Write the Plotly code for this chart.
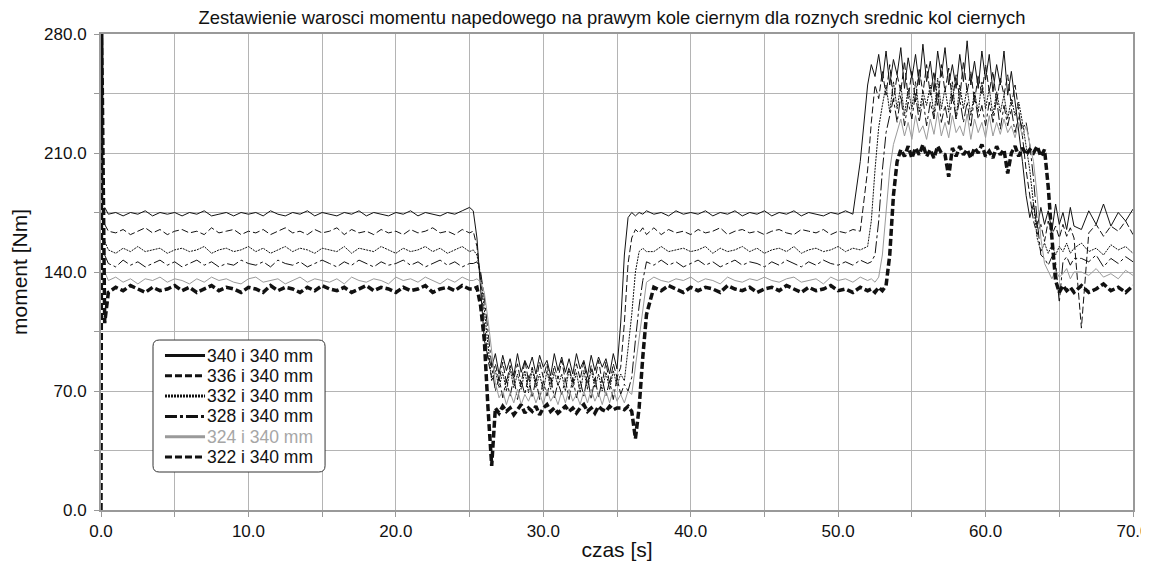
import plotly.graph_objects as go

# sample times [s]: start-up, 0.5 s steps, 0.25 s steps where the signal is rough
T = ([0.0, 0.05, 0.25]
     + [0.5 * k for k in range(1, 51)]          # 0.5 .. 25.0
     + [25 + 0.25 * k for k in range(1, 49)]    # 25.25 .. 37.0
     + [37 + 0.5 * k for k in range(1, 31)]     # 37.5 .. 52.0
     + [52 + 0.25 * k for k in range(1, 57)]    # 52.25 .. 66.0
     + [66 + 0.5 * k for k in range(1, 9)])     # 66.5 .. 70.0

# moment [Nm]
d340 = [None, None, 178,
        174, 175, 173, 175, 174, 176, 173, 175, 174, 175,
        173, 175, 174, 176, 173, 174, 175, 173, 175, 174,
        175, 173, 176, 174, 173, 175, 174, 176, 173, 175,
        174, 173, 175, 174, 176, 173, 175, 174, 173, 175,
        174, 176, 173, 175, 174, 173, 175, 174, 176, 178,
        176, 160, 130, 100, 90, 84, 92, 80, 91, 82, 89, 79,
        92, 81, 88, 83, 90, 80, 91, 84, 88, 79, 92, 82,
        90, 81, 89, 80, 92, 83, 88, 79, 91, 82, 90, 84,
        89, 80, 92, 83, 110, 150, 172, 175, 173, 175, 174, 176,
        174, 175, 173, 176, 174, 175,
        174, 176, 173, 175, 174, 176, 173, 175, 174, 176,
        173, 175, 174, 176, 173, 175, 174, 173, 175, 174,
        176, 174, 205, 250,
        262, 255, 268, 252, 270, 250, 265, 256, 272, 248, 266, 254,
        268, 250, 274, 252, 264, 246, 270, 255, 272, 250, 262, 248,
        268, 252, 276, 250, 264, 248, 270, 253, 268, 246, 262, 250,
        270, 244, 258, 240, 225, 205, 185, 172, 180, 166, 178, 168,
        176, 164, 180, 168, 175, 165, 178, 167,
        165, 176, 168, 180, 167, 175, 170, 177]

d336 = [None, None, 168,
        164, 163, 165, 162, 164, 166, 163, 165, 162, 164,
        165, 163, 164, 162, 166, 163, 164, 165, 162, 164,
        163, 165, 162, 164, 166, 163, 164, 162, 165, 163,
        164, 166, 162, 165, 163, 164, 162, 165, 163, 164,
        162, 165, 163, 164, 166, 163, 164, 162, 165, 163,
        164, 155, 135, 110, 88, 78, 86, 76, 87, 75, 85, 77,
        86, 74, 88, 76, 84, 75, 87, 78, 86, 74, 85, 77,
        88, 76, 84, 75, 86, 77, 87, 74, 85, 76, 88, 75,
        87, 74, 86, 78, 84, 110, 145, 160, 165, 163, 166, 162,
        166, 162, 165, 163, 164, 162,
        165, 163, 164, 166, 162, 164, 165, 163, 164, 162,
        164, 165, 163, 162, 165, 164, 163, 165, 162, 164,
        163, 165, 164, 200,
        228, 250, 242, 258, 244, 262, 240, 256, 246, 264, 242, 258,
        240, 260, 245, 262, 244, 258, 238, 262, 246, 260, 240, 256,
        242, 264, 246, 258, 240, 256, 244, 262, 246, 258, 240, 254,
        244, 256, 238, 250, 236, 220, 200, 185, 170, 162, 168, 158,
        170, 162, 167, 160, 168, 161, 166, 160,
        107, 163, 168, 161, 167, 164, 170, 162]

d332 = [None, None, 158,
        153, 151, 154, 152, 155, 152, 153, 154, 151, 153,
        154, 152, 153, 155, 151, 153, 154, 152, 153, 155,
        152, 154, 151, 153, 155, 152, 154, 153, 151, 154,
        153, 152, 155, 151, 154, 153, 152, 155, 153, 151,
        154, 152, 153, 155, 152, 154, 151, 153, 155, 152,
        153, 150, 138, 118, 95, 76, 82, 72, 81, 70, 83, 72,
        80, 71, 82, 69, 83, 72, 80, 70, 82, 71, 81, 73,
        80, 70, 83, 72, 81, 69, 82, 71, 83, 72, 80, 70,
        81, 71, 82, 73, 80, 76, 95, 115, 140, 152, 154, 152,
        152, 155, 152, 153, 154, 152,
        153, 155, 151, 154, 152, 153, 155, 152, 154, 151,
        153, 154, 152, 155, 151, 153, 154, 152, 153, 155,
        152, 154, 153, 155,
        170, 200, 225, 238, 250, 234, 252, 236, 250, 232, 248, 236,
        252, 234, 246, 238, 250, 232, 254, 236, 248, 234, 252, 230,
        250, 236, 248, 232, 246, 234, 252, 236, 248, 232, 246, 234,
        244, 230, 242, 232, 240, 228, 215, 200, 180, 160, 152, 157,
        151, 156, 150, 155, 152, 157, 151, 154,
        157, 152, 154, 150, 156, 153, 155, 151]

d328 = [None, None, 150,
        145, 143, 147, 144, 146, 143, 145, 147, 144, 146,
        143, 145, 147, 144, 146, 143, 145, 144, 147, 145,
        144, 146, 143, 147, 145, 144, 146, 143, 145, 147,
        145, 143, 146, 144, 147, 145, 143, 146, 144, 145,
        147, 144, 146, 143, 145, 147, 144, 146, 143, 145,
        145, 146, 140, 125, 105, 85, 70, 78, 66, 77, 67, 78,
        65, 76, 68, 79, 66, 77, 65, 76, 67, 78, 66, 75,
        68, 77, 65, 78, 66, 76, 67, 79, 65, 78, 66, 77,
        67, 76, 65, 78, 68, 74, 70, 78, 100, 120, 135, 146,
        144, 147, 144, 146, 143, 145,
        147, 144, 146, 143, 145, 147, 144, 146, 145, 143,
        146, 144, 147, 145, 143, 146, 144, 147, 145, 144,
        146, 144, 147, 145,
        146, 150, 170, 200, 222, 232, 242, 228, 244, 226, 240, 230,
        245, 228, 242, 226, 240, 230, 246, 228, 238, 226, 244, 230,
        242, 228, 240, 225, 244, 230, 238, 226, 240, 228, 242, 224,
        238, 226, 236, 222, 232, 224, 228, 215, 195, 170, 150, 148,
        144, 149, 146, 122, 146, 149, 144, 148,
        148, 146, 150, 143, 148, 145, 149, 146]

d324 = [None, None, 140,
        135, 137, 134, 136, 133, 136, 135, 137, 134, 136,
        135, 133, 136, 134, 137, 135, 136, 134, 133, 136,
        137, 134, 135, 136, 133, 135, 137, 134, 136, 135,
        134, 136, 133, 137, 135, 134, 136, 135, 133, 137,
        135, 136, 134, 137, 135, 133, 136, 134, 137, 135,
        135, 136, 134, 128, 112, 95, 75, 66, 70, 62, 69, 63,
        71, 62, 68, 64, 70, 63, 69, 62, 71, 64, 68, 62,
        70, 63, 71, 64, 68, 62, 70, 63, 71, 64, 69, 62,
        70, 63, 71, 64, 68, 63, 70, 68, 85, 100, 120, 134,
        137, 135, 134, 136, 135, 137,
        134, 136, 135, 133, 137, 135, 134, 136, 135, 137,
        135, 134, 136, 137, 134, 135, 136, 133, 137, 135,
        136, 134, 137, 135,
        136, 134, 137, 150, 175, 200, 215, 222, 230, 220, 228, 218,
        232, 222, 226, 218, 230, 221, 234, 220, 228, 219, 232, 222,
        226, 220, 233, 218, 230, 222, 228, 219, 232, 220, 228, 221,
        230, 222, 226, 219, 228, 220, 226, 215, 205, 185, 160, 145,
        140, 136, 141, 137, 139, 142, 136, 140,
        140, 138, 142, 137, 139, 136, 141, 138]

d322 = [0, 280, 110,
        128, 131, 129, 132, 130, 128, 131, 129, 130, 132,
        129, 131, 128, 130, 132, 129, 131, 130, 128, 131,
        130, 128, 132, 129, 131, 130, 128, 131, 129, 132,
        130, 129, 131, 128, 130, 132, 129, 131, 130, 128,
        131, 129, 130, 132, 128, 130, 131, 129, 132, 130,
        130, 131, 120, 100, 60, 26, 60, 57, 61, 58, 60, 56,
        59, 62, 57, 60, 58, 61, 56, 60, 62, 58, 60, 57,
        59, 61, 58, 60, 57, 60, 62, 58, 60, 57, 61, 59,
        58, 61, 59, 60, 60, 59, 61, 58, 42, 60, 90, 115,
        131, 129, 132, 130, 128, 131,
        129, 131, 130, 128, 132, 130, 129, 131, 128, 130,
        131, 129, 132, 130, 128, 131, 129, 130, 132, 129,
        130, 128, 131, 129,
        130, 128, 131, 129, 132, 150, 185, 205, 212, 208, 214, 207,
        213, 209, 215, 208, 212, 207, 214, 210, 209, 196, 213, 208,
        214, 209, 212, 207, 213, 210, 215, 208, 211, 207, 214, 209,
        212, 198, 210, 214, 208, 213, 209, 212, 210, 214, 208, 212,
        190, 160, 135, 128, 132, 129, 131, 128,
        132, 128, 130, 133, 129, 131, 128, 132]

labels = ["340 i 340 mm", "336 i 340 mm", "332 i 340 mm", "328 i 340 mm",
          "324 i 340 mm", "322 i 340 mm"]
series = [d340, d336, d332, d328, d324, d322]
assert all(len(s) == len(T) for s in series)

colors = ["#111111", "#111111", "#111111", "#111111", "#9a9a9a", "#111111"]
text_colors = ["#111111"] * 4 + ["#a6a6a6", "#111111"]
dashes = ["solid", "7px,3px", "2px,1px", "12px,3px,3px,3px", "solid", "7px,3px"]
widths = [1, 1, 1, 1, 1, 3.5]

fig = go.Figure()
for name, ys, c, d, w in zip(labels, series, colors, dashes, widths):
    fig.add_trace(go.Scatter(x=T, y=ys, mode="lines", name=name, showlegend=False,
                             line=dict(color=c, dash=d, width=w)))

# legend box drawn by hand (rounded frame, thick line samples)
x0, x1, y0, y1 = 0.0504, 0.2171, 0.0798, 0.3571
rx, ry = 0.006, 0.013
frame = (f"M {x0+rx},{y0} L {x1-rx},{y0} Q {x1},{y0} {x1},{y0+ry} "
         f"L {x1},{y1-ry} Q {x1},{y1} {x1-rx},{y1} L {x0+rx},{y1} "
         f"Q {x0},{y1} {x0},{y1-ry} L {x0},{y0+ry} Q {x0},{y0} {x0+rx},{y0} Z")
shapes = [dict(type="path", path=frame, xref="paper", yref="paper", layer="above",
               fillcolor="white", line=dict(color="#333333", width=1))]
annotations = []
for i, (name, c, tc, d) in enumerate(zip(labels, colors, text_colors, dashes)):
    yy = (510 - (355.5 + 20.3 * i)) / 476
    shapes.append(dict(type="line", xref="paper", yref="paper", layer="above",
                       x0=0.062, x1=0.1008, y0=yy, y1=yy,
                       line=dict(color=c, width=3, dash=d)))
    annotations.append(dict(text=name, xref="paper", yref="paper", x=0.1005, y=yy,
                            xanchor="left", yanchor="middle", showarrow=False,
                            font=dict(size=17.5, color=tc)))

xt = list(range(0, 71, 5))
yt = list(range(0, 281, 35))
fig.update_xaxes(range=[0, 70], tickvals=xt,
                 ticktext=[f"{v:.1f}" if v % 10 == 0 else "" for v in xt],
                 showgrid=True, gridcolor="#b4b4b4", gridwidth=1,
                 showline=True, linecolor="#999999", linewidth=2, mirror=True,
                 ticks="outside", ticklen=5, tickcolor="#999999", zeroline=False,
                 automargin=False, tickfont=dict(size=17), ticklabeloverflow="allow",
                 title=dict(text="czas [s]", font=dict(size=21), standoff=2))
fig.update_yaxes(range=[0, 280], tickvals=yt,
                 ticktext=[f"{v:.1f}" if v % 70 == 0 else "" for v in yt],
                 showgrid=True, gridcolor="#b4b4b4", gridwidth=1,
                 showline=True, linecolor="#999999", linewidth=2, mirror=True,
                 ticks="outside", ticklen=5, tickcolor="#999999", zeroline=False,
                 automargin=False, tickfont=dict(size=17), ticklabelstandoff=4,
                 title=dict(text="moment [Nm]", font=dict(size=21), standoff=12))
fig.update_layout(
    width=1149, height=563,
    margin=dict(l=93, r=24, t=26, b=61),
    paper_bgcolor="white", plot_bgcolor="white",
    font=dict(family="Liberation Sans, Arial, sans-serif", color="#111111"),
    title=dict(text="Zestawienie warosci momentu napedowego na prawym kole ciernym dla roznych srednic kol ciernych",
               x=604 / 1149, xanchor="center", y=1 - 10 / 563, yanchor="middle",
               font=dict(size=18.4)),
    shapes=shapes, annotations=annotations, showlegend=False,
)

fig.write_html("out.html")
